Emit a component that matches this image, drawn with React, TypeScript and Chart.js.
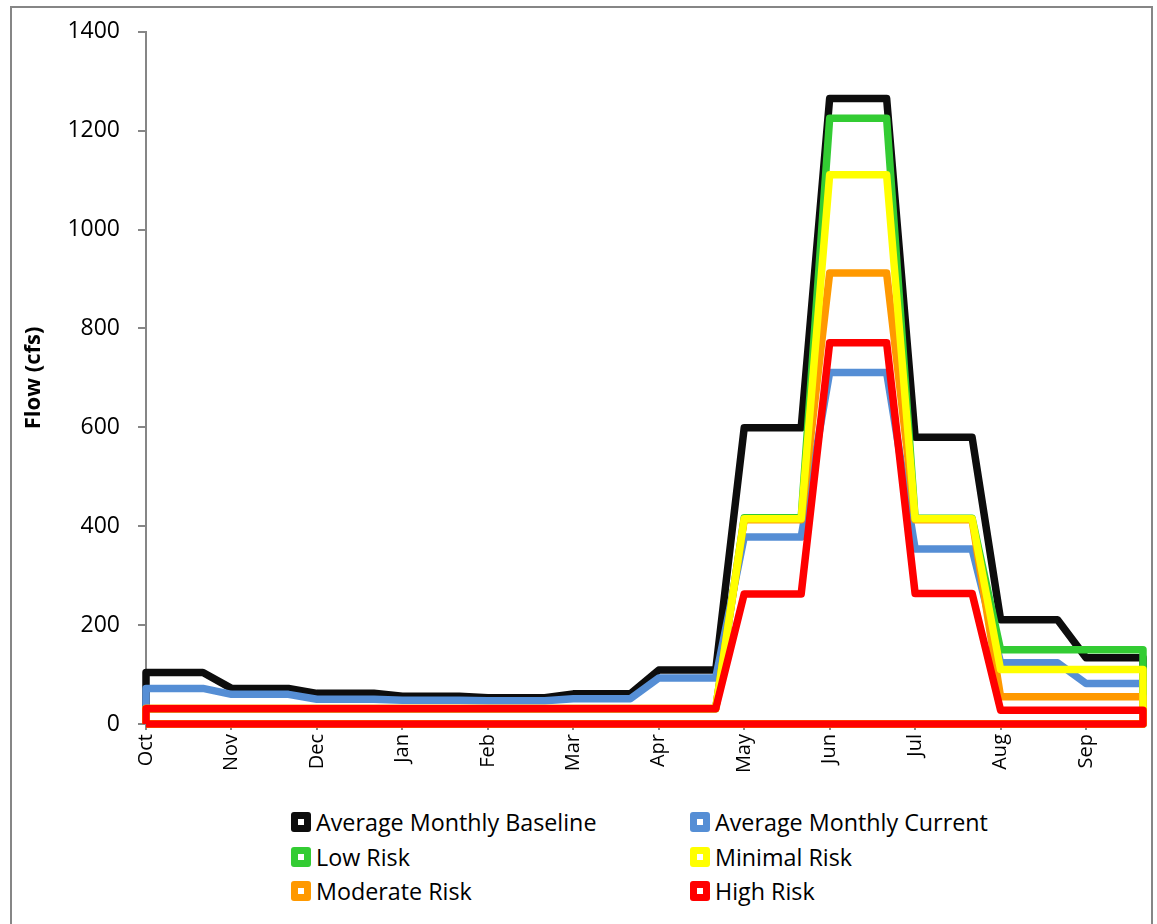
import React, { useEffect, useRef } from "react";
import { Chart, registerables } from "chart.js";

Chart.register(...registerables);

const months = ["Oct", "Nov", "Dec", "Jan", "Feb", "Mar", "Apr", "May", "Jun", "Jul", "Aug", "Sep"];
const yTicks = [0, 200, 400, 600, 800, 1000, 1200, 1400];

const baseline = [104, 72, 62, 56, 53, 61, 109, 599, 1265, 580, 211, 134];
const current = [72, 60, 50, 48, 47, 51, 93, 378, 711, 354, 124, 82];
const lowRisk = [31, 31, 31, 31, 31, 31, 31, 417, 1225, 416, 150, 150];
const minimalRisk = [31, 31, 31, 31, 31, 31, 31, 415, 1111, 415, 110, 110];
const moderateRisk = [32, 32, 32, 32, 32, 32, 32, 413, 912, 413, 55, 55];
const highRisk = [31, 31, 31, 31, 31, 31, 31, 263, 771, 264, 28, 28];

const seriesNames = [
  "Average Monthly Baseline",
  "Average Monthly Current",
  "Low Risk",
  "Minimal Risk",
  "Moderate Risk",
  "High Risk",
];
const seriesValues = [baseline, current, lowRisk, minimalRisk, moderateRisk, highRisk];
const seriesColors = ["#0d0d0d", "#558ed5", "#33cc33", "#ffff00", "#ff9900", "#ff0000"];
// drawing stack: higher number = drawn later (on top)
const seriesStack = [0, 1, 2, 4, 3, 5];

// Each month value is held for the first two thirds of the month, then ramps to the next month.
const HOLD = 2 / 3;
function buildPoints(values: number[]) {
  const pts: { x: number; y: number }[] = [{ x: 0, y: 0 }];
  values.forEach((v, i) => {
    pts.push({ x: i, y: v });
    pts.push({ x: i + HOLD, y: v });
  });
  const end = values.length - 1 + HOLD;
  pts.push({ x: end, y: 0 });
  pts.push({ x: 0, y: 0 });
  return pts;
}

const AXIS_GREY = "#868686";
const FONT = "'Open Sans', 'Noto Sans', sans-serif";

export default function App() {
  const canvasRef = useRef<HTMLCanvasElement | null>(null);

  useEffect(() => {
    if (!canvasRef.current) return;
    const chart = new Chart(canvasRef.current, {
      type: "line",
      data: {
        datasets: seriesNames.map((name, i) => ({
          label: name,
          data: buildPoints(seriesValues[i]),
          borderColor: seriesColors[i],
          backgroundColor: seriesColors[i],
          borderWidth: 7.5,
          borderJoinStyle: "round" as const,
          pointRadius: 0,
          pointHoverRadius: 0,
          fill: false,
          tension: 0,
          order: 10 - seriesStack[i],
          clip: false as any,
        })),
      },
      options: {
        animation: false,
        responsive: false,
        devicePixelRatio: 1,
        layout: { padding: { top: 30, right: 14, left: 0, bottom: 0 } },
        plugins: {
          legend: { display: false },
          tooltip: { enabled: false },
        },
        scales: {
          x: {
            type: "linear",
            position: "bottom",
            min: 0,
            max: months.length - 1 + HOLD,
            afterBuildTicks: (scale: any) => {
              scale.ticks = months.map((_, i) => ({ value: i }));
            },
            afterFit: (scale: any) => {
              scale.height = 76;
            },
            ticks: {
              autoSkip: false,
              minRotation: 90,
              maxRotation: 90,
              padding: 4,
              color: "#000",
              font: { family: FONT, size: 20 },
              callback: (v: any) => months[Math.round(Number(v))] ?? "",
            },
            grid: {
              display: true,
              drawOnChartArea: false,
              drawTicks: true,
              tickLength: 6,
              color: AXIS_GREY,
              lineWidth: 2,
            },
            border: { display: true, color: AXIS_GREY, width: 2 },
          },
          y: {
            type: "linear",
            min: 0,
            max: 1400,
            afterBuildTicks: (scale: any) => {
              scale.ticks = yTicks.map((v) => ({ value: v }));
            },
            afterFit: (scale: any) => {
              scale.width = 146;
            },
            ticks: {
              padding: 18,
              color: "#000",
              font: { family: FONT, size: 23 },
              callback: (v: any) => String(v),
            },
            grid: {
              display: true,
              drawOnChartArea: false,
              drawTicks: true,
              tickLength: 8,
              color: AXIS_GREY,
              lineWidth: 2,
            },
            border: { display: true, color: AXIS_GREY, width: 2 },
            title: {
              display: true,
              text: "Flow (cfs)",
              color: "#000",
              font: { family: FONT, size: 22, weight: "bold" },
              padding: { top: 21, bottom: 0 },
            },
          },
        },
      },
    });
    return () => chart.destroy();
  }, []);

  const legendRows = [
    [0, 1],
    [2, 3],
    [4, 5],
  ];
  const colX = [291, 690];
  const rowY = [822, 857, 891];

  return (
    <div
      style={{
        position: "absolute",
        left: 0,
        top: 0,
        width: 1157,
        height: 924,
        overflow: "hidden",
        background: "#fff",
      }}
    >
      <div
        style={{
          position: "absolute",
          left: 10,
          top: 6,
          width: 1143,
          height: 940,
          border: `2px solid ${AXIS_GREY}`,
          boxSizing: "border-box",
        }}
      />
      <canvas
        ref={canvasRef}
        width={1157}
        height={800}
        style={{ position: "absolute", left: 0, top: 0, width: 1157, height: 800 }}
      />
      {legendRows.map((row, r) =>
        row.map((si, c) => (
          <div
            key={si}
            style={{
              position: "absolute",
              left: colX[c],
              top: rowY[r] - 16,
              height: 32,
              display: "flex",
              alignItems: "center",
              fontFamily: FONT,
              fontSize: 23.3,
              color: "#000",
              whiteSpace: "nowrap",
            }}
          >
            <span
              style={{
                width: 20,
                height: 20,
                borderRadius: 3,
                background: seriesColors[si],
                display: "inline-flex",
                alignItems: "center",
                justifyContent: "center",
                marginRight: 5,
                flex: "0 0 auto",
              }}
            >
              <span style={{ width: 6, height: 6, background: "#fff", display: "block" }} />
            </span>
            <span>{seriesNames[si]}</span>
          </div>
        ))
      )}
    </div>
  );
}
